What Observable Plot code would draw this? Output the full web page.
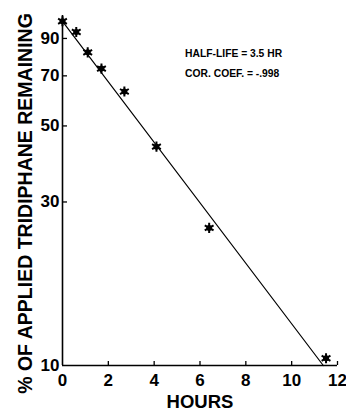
<!DOCTYPE html>
<html>
<head>
<meta charset="utf-8">
<script src="https://cdn.jsdelivr.net/npm/d3@7"></script>
<script src="https://cdn.jsdelivr.net/npm/@observablehq/plot@0.6"></script>
<style>
  html, body { margin: 0; padding: 0; background: #fff; }
  #chart svg { display: block; }
</style>
</head>
<body>
<div id="chart"></div>
<script>
// Measured data
const hours   = [0, 0.6, 1.1, 1.7, 2.7, 4.1, 6.4, 11.5];
const percent = [101, 94, 82, 73.5, 63, 43.5, 25.2, 10.5];

// Fitted regression line end points
const fitHours   = [0, 11.38];
const fitPercent = [101, 10];

// Axis ticks and labels
const xTicks = [0, 2, 4, 6, 8, 10, 12];
const yTicks = [10, 30, 50, 70, 90];
const xLabel = "HOURS";
const yLabel = "% OF APPLIED TRIDIPHANE REMAINING";

// Annotations
const noteText = ["HALF-LIFE = 3.5 HR", "COR. COEF. = -.998"];
const noteX = [5.35, 5.35];
const noteY = [81, 71];

const points = hours.map((h, i) => ({h, p: percent[i]}));
const fit = fitHours.map((h, i) => ({h, p: fitPercent[i]}));
const notes = noteText.map((t, i) => ({t, x: noteX[i], y: noteY[i]}));

const font = "'Liberation Sans', Arial, Helvetica, sans-serif";
const W = 346, H = 416, ML = 62, MR = 9, MT = 15, MB = 51;
const frameW = W - ML - MR, frameH = H - MT - MB;

const chart = Plot.plot({
  width: W,
  height: H,
  marginLeft: ML,
  marginRight: MR,
  marginTop: MT,
  marginBottom: MB,
  style: {fontFamily: font, color: "#000", background: "#fff"},
  x: {domain: [0, 12]},
  y: {type: "log", domain: [10, 105]},
  marks: [
    Plot.axisX({ticks: xTicks, tickSize: 0, tickPadding: 8, fontSize: 17, fontWeight: "bold", label: null, tickFormat: d => String(d)}),
    Plot.axisY({ticks: yTicks, tickSize: 0, tickPadding: 3, fontSize: 17, fontWeight: "bold", label: null, tickFormat: d => String(d)}),
    // inward tick marks
    Plot.tickY(yTicks.filter(d => d > 10), {y: d => d, insetRight: frameW - 5, stroke: "#000", strokeWidth: 1.3}),
    Plot.tickX(xTicks.filter(d => d > 0), {x: d => d, insetTop: frameH - 4, stroke: "#000", strokeWidth: 1.3}),
    Plot.ruleX([0], {stroke: "#000", strokeWidth: 1.6}),
    Plot.ruleY([10], {stroke: "#000", strokeWidth: 1.6}),
    Plot.line(fit, {x: "h", y: "p", stroke: "#000", strokeWidth: 1.2}),
    Plot.dot(points, {x: "h", y: "p", r: 3, fill: "#000", stroke: "none"}),
    Plot.dot(points, {x: "h", y: "p", symbol: "asterisk", r: 4.8, stroke: "#000", strokeWidth: 2}),
    Plot.text(notes, {x: "x", y: "y", text: "t", textAnchor: "start", lineAnchor: "middle", fontSize: 10.3, fontWeight: "bold", fill: "#000"}),
    Plot.text([xLabel], {frameAnchor: "bottom", dy: 37, lineAnchor: "middle", fontSize: 18.5, fontWeight: "bold", fill: "#000"}),
    Plot.text([yLabel], {frameAnchor: "left", dx: -37, dy: 13, rotate: -90, lineAnchor: "middle", textAnchor: "middle", fontSize: 19.5, fontWeight: "bold", fill: "#000"})
  ]
});
document.getElementById("chart").appendChild(chart);
</script>
</body>
</html>
